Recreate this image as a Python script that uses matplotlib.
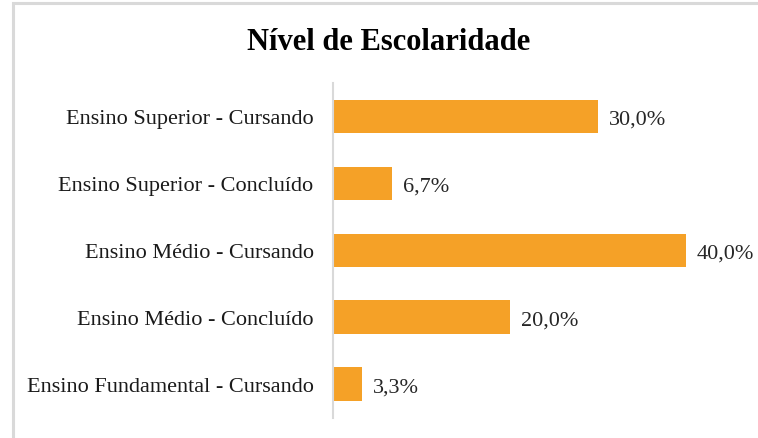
import matplotlib.pyplot as plt
from matplotlib.patches import Rectangle

categories = [
    "Ensino Fundamental - Cursando",
    "Ensino Médio - Concluído",
    "Ensino Médio - Cursando",
    "Ensino Superior - Concluído",
    "Ensino Superior - Cursando",
]
values = [3.3, 20.0, 40.0, 6.7, 30.0]
labels = ["3,3%", "20,0%", "40,0%", "6,7%", "30,0%"]

W, H = 758, 439
fig = plt.figure(figsize=(W / 100, H / 100), dpi=100)
plt.rcParams['font.family'] = ['Liberation Serif', 'DejaVu Serif']

# outer chart frame (cropped on right/bottom)
fig.patches.append(Rectangle((12.5 / W, -0.1), 1.2, 1.1 - 4.5 / H,
                             transform=fig.transFigure, fill=False,
                             edgecolor='#d9d9d9', linewidth=2.2))

ax = fig.add_axes([333 / W, 1 - 418.5 / H, (686 - 333) / W, (418.5 - 84) / H])
y = range(len(categories))
ax.barh(y, values, height=0.5, color='#f5a127')
ax.set_xlim(0, 40)
ax.set_ylim(-0.5, len(categories) - 0.5)
ax.set_yticks(list(y))
ax.set_yticklabels(categories, fontsize=16, color='#1a1a1a')
ax.tick_params(axis='y', length=0, pad=14)
ax.set_xticks([])
for s in ['top', 'right', 'bottom']:
    ax.spines[s].set_visible(False)
ax.spines['left'].set_color('#d9d9d9')
ax.spines['left'].set_linewidth(1.5)

for i, (v, t) in enumerate(zip(values, labels)):
    ax.annotate(t, (v, i), xytext=(8, 0), textcoords='offset points',
                va='center_baseline', ha='left', fontsize=16, color='#262626',
                annotation_clip=False)

fig.text(389 / W, 1 - 42 / H, "Nível de Escolaridade", ha='center', va='center',
         fontsize=22, fontweight='bold', color='black')

plt.savefig('out.png', dpi=100)
